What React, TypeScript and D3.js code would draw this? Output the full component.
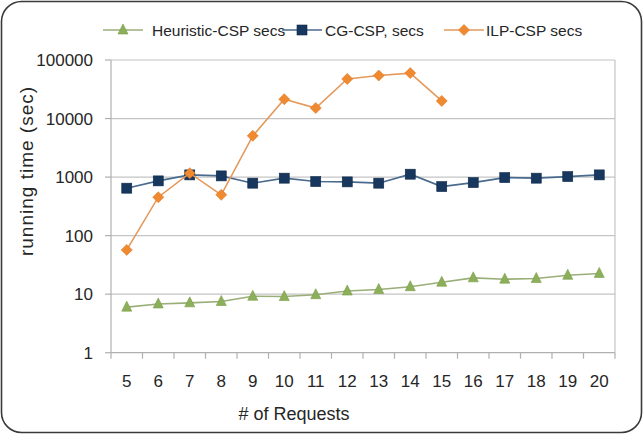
import React from "react";
import * as d3 from "d3";

const categories = ["5","6","7","8","9","10","11","12","13","14","15","16","17","18","19","20"];
const heuristicSecs = [6.0, 6.8, 7.1, 7.5, 9.2, 9.1, 9.8, 11.3, 12, 13.4, 16, 19, 18, 18.5, 21, 22.6];
const cgSecs = [646, 861, 1090, 1048, 787, 958, 838, 828, 787, 1120, 688, 805, 980, 958, 1020, 1090];
const ilpSecs = [57, 453, 1166, 497, 5060, 21400, 15100, 47500, 54300, 59700, 20000];
const yTicks = [1, 10, 100, 1000, 10000, 100000];
const seriesNames = ["Heuristic-CSP secs", "CG-CSP, secs", "ILP-CSP secs"];

const W = 644, H = 435;
const plot = { left: 111, right: 615, top: 60, bottom: 352.7 };
const FONT = "'Liberation Sans', Arial, sans-serif";

const colors = {
  heur: { line: "#9aae78", marker: "#8cb05a" },
  cg: { line: "#4a6a8e", marker: "#17375e" },
  ilp: { line: "#e39a5c", marker: "#f08a30" },
};

function Marker({ type, x, y, color }: { type: string; x: number; y: number; color: string }) {
  if (type === "tri") {
    const s = 10;
    const p = `${x},${y - s * 0.6} ${x + s / 2},${y + s * 0.4} ${x - s / 2},${y + s * 0.4}`;
    return <polygon points={p} fill={color} stroke="#7a9a48" strokeWidth={0.6} />;
  }
  if (type === "sq") {
    return <rect x={x - 5} y={y - 5} width={10} height={10} fill={color} stroke="#0e2a4a" strokeWidth={0.6} />;
  }
  const r = 5.5;
  const p = `${x},${y - r} ${x + r},${y} ${x},${y + r} ${x - r},${y}`;
  return <polygon points={p} fill={color} stroke="#e07820" strokeWidth={0.6} />;
}

export default function App() {
  const x = d3.scaleBand<string>().domain(categories).range([plot.left, plot.right]);
  const y = d3.scaleLog().domain([1, 100000]).range([plot.bottom, plot.top]);
  const cx = (i: number) => (x(categories[i]) as number) + x.bandwidth() / 2;
  const line = d3.line<number>().x((_, i) => cx(i)).y((d) => y(d));

  const series = [
    { key: "heur", data: heuristicSecs, type: "tri", c: colors.heur },
    { key: "cg", data: cgSecs, type: "sq", c: colors.cg },
    { key: "ilp", data: ilpSecs, type: "dia", c: colors.ilp },
  ];

  const legend = [
    { lx: 103, tx: 152, type: "tri", c: colors.heur, name: seriesNames[0] },
    { lx: 282, tx: 325, type: "sq", c: colors.cg, name: seriesNames[1] },
    { lx: 444, tx: 486, type: "dia", c: colors.ilp, name: seriesNames[2] },
  ];

  const boundaries = d3.range(categories.length + 1).map((i) => plot.left + i * x.step());

  return (
    <svg width={W} height={H} style={{ position: "absolute", left: 0, top: 0, background: "#fff" }} fontFamily={FONT}>
      <rect x={1.5} y={1.5} width={640} height={431} rx={20} ry={20} fill="#fff" stroke="#3a3a3a" strokeWidth={1.6} />
      {yTicks.map((t) => (
        <g key={t}>
          <line x1={plot.left} x2={plot.right} y1={y(t)} y2={y(t)} stroke={t === 1 ? "#b0b0b0" : "#c4c4c4"} strokeWidth={1.2} />
          <line x1={plot.left - 6} x2={plot.left} y1={y(t)} y2={y(t)} stroke="#b0b0b0" strokeWidth={1.2} />
          <text x={93} y={y(t)} dy="0.36em" textAnchor="end" fontSize={17} fill="#262626">{t}</text>
        </g>
      ))}
      <line x1={plot.left} x2={plot.left} y1={plot.top} y2={plot.bottom} stroke="#b0b0b0" strokeWidth={1.2} />
      <line x1={plot.right} x2={plot.right} y1={plot.top} y2={plot.bottom} stroke="#c4c4c4" strokeWidth={1.2} />
      {boundaries.map((b, i) => (
        <line key={i} x1={b} x2={b} y1={plot.bottom} y2={plot.bottom + 6} stroke="#b0b0b0" strokeWidth={1.2} />
      ))}
      {categories.map((c, i) => (
        <text key={c} x={cx(i)} y={387} textAnchor="middle" fontSize={17} fill="#262626">{c}</text>
      ))}
      <text x={294} y={420} textAnchor="middle" fontSize={18} fill="#262626">#  of  Requests</text>
      <text transform={`translate(33,171) rotate(-90)`} textAnchor="middle" fontSize={19} letterSpacing={1} fill="#262626">running  time (sec)</text>

      {series.map((s) => (
        <g key={s.key}>
          <path d={line(s.data) || ""} fill="none" stroke={s.c.line} strokeWidth={1.6} />
          {s.data.map((v, i) => (
            <Marker key={i} type={s.type} x={cx(i)} y={y(v)} color={s.c.marker} />
          ))}
        </g>
      ))}

      {legend.map((l) => (
        <g key={l.name}>
          <line x1={l.lx} x2={l.lx + 40} y1={30} y2={30} stroke={l.c.line} strokeWidth={1.6} />
          <Marker type={l.type} x={l.lx + 20} y={30} color={l.c.marker} />
          <text x={l.tx} y={30} dy="0.36em" fontSize={15.5} fill="#262626">{l.name}</text>
        </g>
      ))}
    </svg>
  );
}
